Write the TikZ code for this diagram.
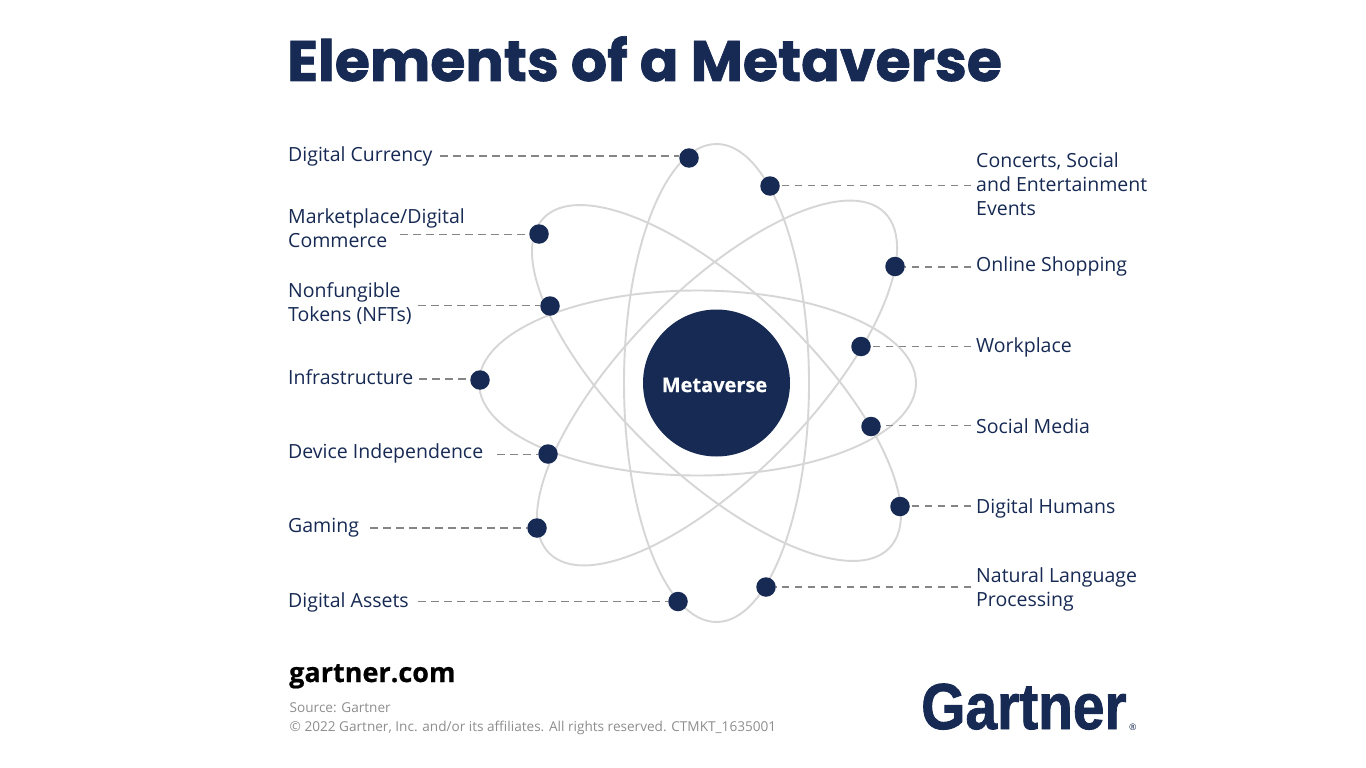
\documentclass[tikz,border=0pt]{standalone}
\usepackage{fontspec}
\setmainfont{Open Sans}
\newfontfamily\heavyfont{Poppins}[BoldFeatures={FakeBold=1.2}]
\newfontfamily\boldfont{Open Sans}[BoldFeatures={FakeBold=0.6}]
\newfontfamily\logofont{Liberation Sans}[BoldFeatures={FakeBold=1.4}]
\definecolor{navy}{HTML}{172A54}
\definecolor{orbitgray}{HTML}{D6D6D6}
\definecolor{leadergray}{HTML}{858585}
\definecolor{footgray}{HTML}{8E8E8E}
\tikzset{
  orbit/.style={draw=orbitgray,line width=1.9pt,fill=none},
  dotnode/.style={circle,fill=navy,draw=none,minimum size=19.5pt,inner sep=0pt},
  leader/.style={draw=leadergray,line width=1.3pt,dash pattern=on 7.5pt off 5.5pt},
  lab/.style={anchor=west,inner sep=0pt,align=left,text=navy,font=\fontsize{19.5}{24}\selectfont},
}
\begin{document}
\begin{tikzpicture}[x=1pt,y=-1pt]
\useasboundingbox[fill=white] (0,0) rectangle (1366,768);
% orbits
\draw[orbit] (716.5,383) ellipse [x radius=92.5pt,y radius=239pt];
\draw[orbit] (697.5,383) ellipse [x radius=218.5pt,y radius=92.5pt];
\draw[orbit,rotate around={-43.6:(716.5,383)}] (716.5,383) ellipse [x radius=239pt,y radius=92.5pt];
\draw[orbit,rotate around={45.5:(717,383)}] (717,383) ellipse [x radius=239pt,y radius=92.5pt];
% centre
\node[circle,fill=navy,minimum size=147pt,inner sep=0pt] (hub) at (716.5,383) {};
\node[text=white,inner sep=0pt,font=\boldfont\bfseries\fontsize{20}{24}\selectfont] (hubt) at (714.5,385) {Metaverse};
% dots
\foreach \n/\x/\y in {a/689/158,b/539/234,c/550/306,d/480/380,e/548/454,f/537/528,g/678/601.5,
  h/770/186,i/895/266.5,j/861/346.5,k/871/426.5,l/900/506.5,m/766/587}
  {\node[dotnode] (\n) at (\x,\y) {};}
% free ends of leaders
\coordinate (ca) at (440,156);
\coordinate (cb) at (400,234.5);
\coordinate (cc) at (418,305.5);
\coordinate (cd) at (419,379);
\coordinate (ce) at (497,454.5);
\coordinate (cf) at (370,528);
\coordinate (cg) at (418,601.5);
\coordinate (ch) at (971,185.5);
\coordinate (ci) at (971,267);
\coordinate (cj) at (971,346.5);
\coordinate (ck) at (971,425.5);
\coordinate (cl) at (971,506);
\coordinate (cm) at (971,587);
\foreach \n in {a,b,c,d,e,f,g} {\draw[leader] (c\n) -- (c\n -| \n.west);}
\foreach \n in {h,i,j,k,l,m} {\draw[leader] (c\n) -- (c\n -| \n.east);}
% labels
\node[lab] (la) at (288,156.5) {Digital Currency};
\node[lab] (lb) at (288,228.5) {Marketplace/Digital\\Commerce};
\node[lab] (lc) at (288,304) {Nonfungible\\Tokens (NFTs)};
\node[lab] (ld) at (288,377.5) {Infrastructure};
\node[lab] (le) at (288,453) {Device Independence};
\node[lab] (lf) at (288,528) {Gaming};
\node[lab] (lg) at (288,602) {Digital Assets};
\node[lab] (lh) at (976,184) {Concerts, Social\\and Entertainment\\Events};
\node[lab] (li) at (976,266.5) {Online Shopping};
\node[lab] (lj) at (976,347.5) {Workplace};
\node[lab] (lk) at (976,426) {Social Media};
\node[lab] (ll) at (976,508.5) {Digital Humans};
\node[lab] (lm) at (976,589.5) {Natural Language\\Processing};
% title and footer
\node[anchor=base west,inner sep=0pt,text=navy,font=\heavyfont\bfseries\fontsize{57}{60}\selectfont] (title) at (287,81) {Elements of a Metaverse};
\node[anchor=base west,inner sep=0pt,text=black,font=\boldfont\bfseries\fontsize{27}{32}\selectfont] (site) at (289,682) {gartner.com};
\node[anchor=base west,inner sep=0pt,text=footgray,font=\fontsize{13.6}{19}\selectfont] (src) at (289.5,712) {Source: Gartner};
\node[anchor=base west,inner sep=0pt,text=footgray,font=\fontsize{13.6}{19}\selectfont] (copy) at (289.5,731) {© 2022 Gartner, Inc. and/or its affiliates. All rights reserved. CTMKT\_1635001};
\node[anchor=base west,inner sep=0pt,text=navy,font=\logofont\bfseries\fontsize{65}{70}\selectfont] (logo) at (921,729) {\scalebox{0.875}[1]{Gartner}};
\node[anchor=base west,inner sep=0pt,text=navy,font=\fontsize{9}{10}\selectfont] (reg) at (1129,730) {®};
\end{tikzpicture}
\end{document}
